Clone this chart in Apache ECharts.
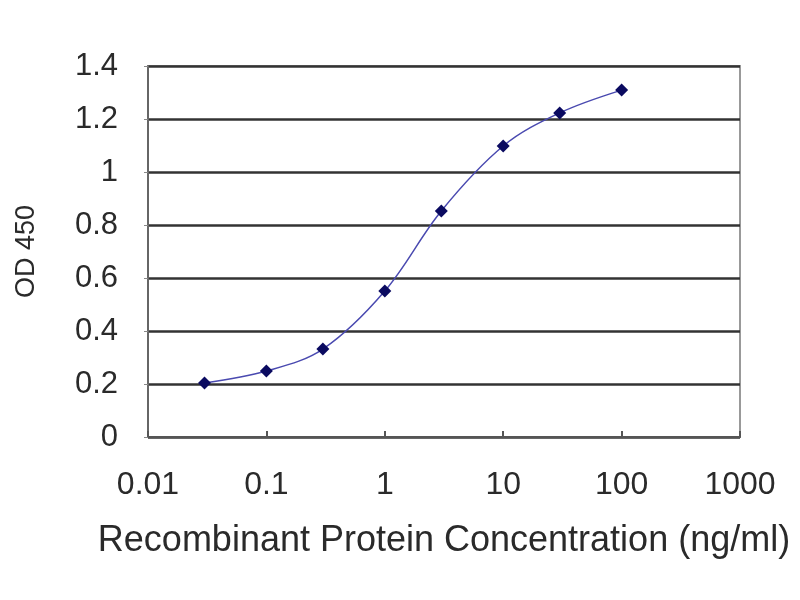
<!DOCTYPE html>
<html>
<head>
    <meta http-equiv="Content-Type" content="text/html; charset=utf-8" />
    <title></title>
    <script src="https://cdn.jsdelivr.net/npm/echarts@6/dist/echarts.min.js"></script>
    <style>
        html, body { margin: 0; padding: 0; background: #fff; }
    </style>
</head>
<body>
    <div id="main" style="width: 800px;height:600px;"></div>
</body>
<script type="text/javascript">
    // concentrations (ng/ml) and measured OD 450
    var concentrations = [0.03, 0.1, 0.3, 1, 3, 10, 30, 100];
    var odValues = [0.204, 0.249, 0.332, 0.551, 0.853, 1.098, 1.223, 1.309];
    var xTickLabels = ['0.01', '0.1', '1', '10', '100', '1000'];

    var points = concentrations.map(function (c, i) {
        return [c, odValues[i]];
    });

    var myChart = echarts.init(document.getElementById('main'));
    var txt = '#2a2a2a';
    var option = {
        animation: false,
        backgroundColor: '#fff',
        grid: {
            left: 148, right: 60, top: 66, bottom: 163,
            show: true, borderColor: '#999', borderWidth: 2
        },
        xAxis: {
            type: 'log',
            logBase: 10,
            min: 0.01,
            max: 1000,
            name: 'Recombinant Protein Concentration (ng/ml)',
            nameLocation: 'middle',
            nameGap: 86,
            nameTextStyle: { fontFamily: 'Liberation Sans', fontSize: 36, color: txt },
            axisLine: { lineStyle: { color: '#555', width: 2 } },
            axisTick: { inside: true, length: 6, lineStyle: { color: '#555', width: 2 } },
            axisLabel: {
                margin: 32,
                fontFamily: 'Liberation Sans', fontSize: 32, color: txt,
                formatter: function (v) {
                    var idx = Math.round(Math.log10(v)) + 2;
                    return xTickLabels[idx] !== undefined ? xTickLabels[idx] : '';
                }
            },
            splitLine: { show: false }
        },
        yAxis: {
            type: 'value',
            min: 0,
            max: 1.4,
            interval: 0.2,
            name: 'OD 450',
            nameLocation: 'middle',
            nameGap: 108,
            nameTextStyle: { fontFamily: 'Liberation Sans', fontSize: 27, color: txt },
            axisLine: { show: true, lineStyle: { color: '#666', width: 2 } },
            axisTick: { show: true, length: 4, lineStyle: { color: '#888' } },
            axisLabel: {
                margin: 30,
                fontFamily: 'Liberation Sans', fontSize: 31, color: txt,
                formatter: function (v) { return String(Math.round(v * 10) / 10); }
            },
            splitLine: { show: true, lineStyle: { color: '#333', width: 2.5 } }
        },
        series: [
            {
                type: 'line',
                data: points,
                smooth: 0.35,
                symbol: 'diamond',
                symbolSize: 13,
                itemStyle: { color: '#0a0a60' },
                lineStyle: { color: '#4a4ab0', width: 1.5 }
            }
        ]
    };
    myChart.setOption(option);
</script>
</html>
